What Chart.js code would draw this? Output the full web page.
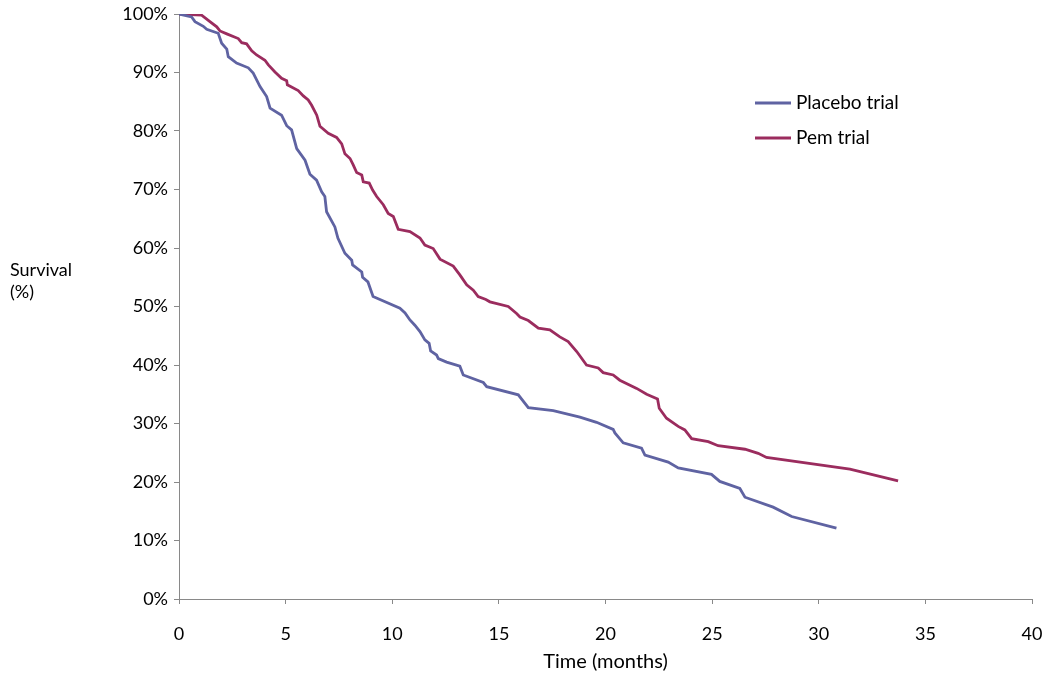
<!DOCTYPE html>
<html>
<head>
<meta charset="utf-8">
<script src="https://cdn.jsdelivr.net/npm/chart.js@4/dist/chart.umd.min.js"></script>
<style>
  body { margin: 0; background: #fff; }
  #wrap { width: 1048px; height: 679px; }
</style>
</head>
<body>
<div id="wrap"><canvas id="chart" width="1048" height="679"></canvas></div>
<script>
  // Kaplan-Meier style survival curves, months vs percent surviving
  const placeboMonths = [0, 0.59, 0.75, 1.14, 1.30, 1.84, 2.0, 2.24, 2.31, 2.70, 3.25, 3.48, 3.80, 4.11, 4.27,
    4.81, 5.05, 5.28, 5.52, 5.91, 6.14, 6.45, 6.69, 6.84, 6.92, 7.31, 7.45, 7.78, 8.10, 8.14, 8.57, 8.61,
    8.86, 9.10, 10.36, 10.60, 10.83, 11.06, 11.30, 11.53, 11.73, 11.80, 12.08, 12.16, 12.55, 13.17, 13.33,
    14.27, 14.43, 15.91, 16.38, 17.55, 18.80, 19.58, 20.36, 20.44, 20.83, 21.69, 21.85, 22.94, 23.41,
    24.97, 25.36, 26.30, 26.54, 27.86, 28.73, 30.83];
  const placeboSurvival = [100, 99.5, 98.7, 97.9, 97.4, 96.7, 95.0, 94.0, 92.7, 91.6, 90.8, 89.9, 87.6, 85.9, 83.9,
    82.7, 80.9, 80.2, 77.0, 75.0, 72.6, 71.6, 69.6, 68.8, 66.2, 63.6, 61.7, 59.1, 57.9, 57.1, 55.9, 55.0,
    54.2, 51.7, 49.7, 48.9, 47.7, 46.8, 45.7, 44.3, 43.7, 42.4, 41.7, 41.1, 40.5, 39.8, 38.3,
    37.0, 36.3, 34.9, 32.7, 32.2, 31.1, 30.2, 29.0, 28.4, 26.7, 25.8, 24.6, 23.4, 22.4,
    21.3, 20.1, 18.9, 17.4, 15.7, 14.1, 12.1];

  const pemMonths = [0, 1.06, 1.45, 1.77, 1.92, 2.24, 2.78, 2.94, 3.17, 3.41, 3.64, 4.03, 4.19, 4.50, 4.81,
    5.05, 5.08, 5.59, 5.83, 6.06, 6.22, 6.46, 6.61, 7.00, 7.39, 7.63, 7.78, 8.02, 8.17, 8.33, 8.57, 8.64,
    8.92, 9.08, 9.27, 9.58, 9.81, 10.05, 10.28, 10.83, 11.30, 11.53, 11.92, 12.24, 12.86, 13.17, 13.49,
    13.80, 14.03, 14.39, 14.58, 15.44, 15.83, 15.99, 16.38, 16.85, 17.39, 17.86, 18.25, 18.65, 19.11,
    19.66, 19.89, 20.36, 20.67, 21.46, 21.93, 22.44, 22.52, 22.86, 23.41, 23.72, 24.04, 24.82, 25.28,
    26.54, 27.16, 27.55, 31.46, 33.72];
  const pemSurvival = [100, 99.8, 98.7, 97.8, 97.1, 96.6, 95.8, 95.1, 94.9, 93.7, 93.0, 92.1, 91.3, 90.1, 89.0,
    88.6, 87.9, 86.9, 86.0, 85.3, 84.4, 82.7, 80.8, 79.6, 78.9, 77.8, 76.1, 75.3, 74.2, 72.9, 72.5, 71.3,
    71.1, 69.9, 68.8, 67.4, 65.9, 65.4, 63.2, 62.8, 61.7, 60.5, 59.9, 58.1, 56.9, 55.4, 53.7,
    52.8, 51.7, 51.2, 50.8, 50.0, 48.8, 48.2, 47.6, 46.3, 46.0, 44.8, 44.0, 42.3, 40.0,
    39.5, 38.7, 38.3, 37.4, 36.0, 35.0, 34.2, 32.6, 30.9, 29.5, 28.9, 27.4, 26.9, 26.2,
    25.6, 24.9, 24.2, 22.2, 20.2];

  const seriesNames = ['Placebo trial', 'Pem trial'];
  const seriesColors = ['#5f63a2', '#9b2c5e'];

  const toPoints = (xs, ys) => xs.map((x, i) => ({ x: x, y: ys[i] }));

  const FONT = 'Lato, "Open Sans", sans-serif';
  const axisColor = '#898989';

  // legend inside the plot plus the horizontal "Survival (%)" label
  const extras = {
    id: 'extras',
    afterDraw(chart) {
      const ctx = chart.ctx;
      ctx.save();
      ctx.font = '19px ' + FONT;
      ctx.fillStyle = '#000';
      ctx.textBaseline = 'middle';
      ctx.textAlign = 'left';
      chart.data.datasets.forEach((ds, i) => {
        const y = 103 + i * 35;
        ctx.strokeStyle = ds.borderColor;
        ctx.lineWidth = 2.8;
        ctx.beginPath();
        ctx.moveTo(755, y);
        ctx.lineTo(791, y);
        ctx.stroke();
        ctx.fillText(ds.label, 796, y);
      });
      ctx.font = '18px ' + FONT;
      ctx.fillText('Survival', 10, 270);
      ctx.fillText('(%)', 10, 292);
      ctx.restore();
    }
  };

  new Chart(document.getElementById('chart'), {
    type: 'line',
    data: {
      datasets: [
        {
          label: seriesNames[0],
          data: toPoints(placeboMonths, placeboSurvival),
          borderColor: seriesColors[0],
          borderWidth: 2.8,
          pointRadius: 0,
          tension: 0
        },
        {
          label: seriesNames[1],
          data: toPoints(pemMonths, pemSurvival),
          borderColor: seriesColors[1],
          borderWidth: 2.8,
          pointRadius: 0,
          tension: 0
        }
      ]
    },
    options: {
      responsive: false,
      animation: false,
      layout: { padding: { left: 0, right: 16, top: 14, bottom: 0 } },
      plugins: {
        legend: { display: false },
        tooltip: { enabled: false }
      },
      scales: {
        x: {
          type: 'linear',
          min: 0,
          max: 40,
          afterFit(scale) {
            scale.height = 80;
            scale.paddingLeft = 0;
            scale.paddingRight = 0;
          },
          ticks: {
            stepSize: 5,
            color: '#000',
            padding: 19,
            maxRotation: 0,
            font: { family: FONT, size: 18 }
          },
          grid: { drawOnChartArea: false, color: axisColor, tickLength: 5 },
          border: { color: axisColor },
          title: {
            display: true,
            text: 'Time (months)',
            color: '#000',
            padding: { top: 0, bottom: 5 },
            font: { family: FONT, size: 20 }
          }
        },
        y: {
          min: 0,
          max: 100,
          afterFit(scale) {
            scale.width = 179;
            scale.paddingTop = 0;
            scale.paddingBottom = 0;
          },
          ticks: {
            stepSize: 10,
            color: '#000',
            padding: 6,
            font: { family: FONT, size: 18 },
            callback: v => v + '%'
          },
          grid: { drawOnChartArea: false, color: axisColor, tickLength: 5 },
          border: { color: axisColor }
        }
      }
    },
    plugins: [extras]
  });
</script>
</body>
</html>
